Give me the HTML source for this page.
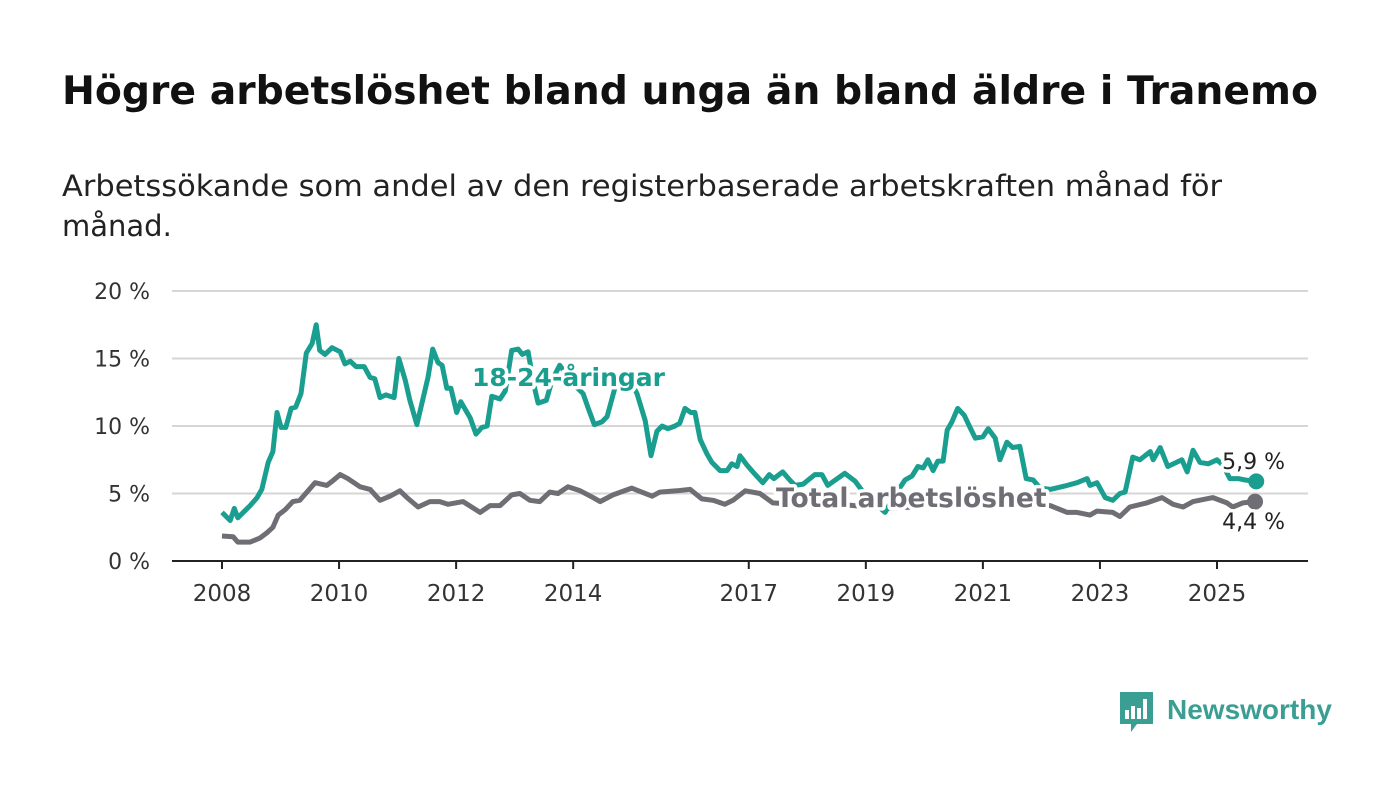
<!DOCTYPE html>
<html><head><meta charset="utf-8"><style>
html,body{margin:0;padding:0;background:#fff;}
body{width:1400px;height:794px;overflow:hidden;font-family:"Liberation Sans",sans-serif;}
</style></head><body>
<svg id="chart" width="1400" height="794" viewBox="0 0 1400 794" xmlns="http://www.w3.org/2000/svg" font-family="'DejaVu Sans','Liberation Sans',sans-serif">
<text x="62" y="104" font-size="39" font-weight="bold" fill="#111" textLength="1256" lengthAdjust="spacingAndGlyphs">Högre arbetslöshet bland unga än bland äldre i Tranemo</text>
<text x="62" y="196" font-size="29" fill="#222" textLength="1160" lengthAdjust="spacingAndGlyphs">Arbetssökande som andel av den registerbaserade arbetskraften månad för</text>
<text x="62" y="236" font-size="29" fill="#222">månad.</text>
<g id="grid"></g><g id="xaxis"></g><g id="series"></g><g id="labels"></g>
<g>
<path d="M1120 692 h33 v32 h-16 l-6 8 v-8 h-11 z" fill="#3a9e93"/>
<rect x="1125" y="710" width="4" height="9" fill="#fff"/><rect x="1131" y="706" width="4" height="13" fill="#fff"/><rect x="1137" y="708" width="4" height="11" fill="#fff"/><rect x="1143" y="699" width="4" height="20" fill="#fff"/>
<text x="1167" y="719" font-size="28" font-family="'Liberation Sans',sans-serif" font-weight="bold" fill="#3a9e93">Newsworthy</text>
</g>
</svg>
<script>
const yTicks=[0,5,10,15,20];
const xTickYears=[2008,2010,2012,2014,2017,2019,2021,2023,2025];
const youthDates=[2008.00,2008.14,2008.21,2008.27,2008.48,2008.60,2008.68,2008.79,2008.87,2008.94,2009.01,2009.09,2009.18,2009.26,2009.35,2009.44,2009.54,2009.61,2009.67,2009.76,2009.88,2010.02,2010.10,2010.19,2010.29,2010.43,2010.53,2010.61,2010.70,2010.80,2010.94,2011.02,2011.13,2011.21,2011.33,2011.52,2011.60,2011.69,2011.76,2011.84,2011.91,2012.01,2012.08,2012.24,2012.34,2012.44,2012.53,2012.61,2012.75,2012.84,2012.95,2013.06,2013.13,2013.23,2013.33,2013.40,2013.54,2013.64,2013.77,2014.03,2014.17,2014.25,2014.36,2014.49,2014.58,2014.68,2014.75,2014.97,2015.09,2015.23,2015.33,2015.43,2015.52,2015.62,2015.74,2015.82,2015.91,2016.01,2016.08,2016.17,2016.29,2016.37,2016.51,2016.63,2016.71,2016.80,2016.85,2016.97,2017.07,2017.24,2017.35,2017.43,2017.58,2017.70,2017.79,2017.93,2018.13,2018.25,2018.35,2018.64,2018.82,2018.99,2019.33,2019.50,2019.67,2019.79,2019.89,2019.98,2020.06,2020.15,2020.23,2020.32,2020.39,2020.47,2020.57,2020.68,2020.78,2020.87,2021.00,2021.09,2021.21,2021.29,2021.41,2021.51,2021.63,2021.74,2021.86,2021.98,2022.15,2022.44,2022.61,2022.78,2022.83,2022.95,2023.09,2023.22,2023.34,2023.43,2023.56,2023.68,2023.86,2023.91,2024.03,2024.16,2024.40,2024.49,2024.59,2024.71,2024.85,2025.00,2025.10,2025.22,2025.36,2025.48,2025.67];
const youthValues=[3.6,3.0,3.9,3.2,4.1,4.7,5.3,7.3,8.1,11.0,9.9,9.9,11.3,11.4,12.4,15.4,16.1,17.5,15.6,15.3,15.8,15.5,14.6,14.8,14.4,14.4,13.6,13.5,12.1,12.3,12.1,15.0,13.4,11.9,10.1,13.6,15.7,14.7,14.5,12.8,12.8,11.0,11.8,10.6,9.4,9.9,10.0,12.2,12.0,12.6,15.6,15.7,15.3,15.5,13.0,11.7,11.9,13.4,14.5,13.0,12.4,11.4,10.1,10.3,10.7,12.3,13.4,13.4,12.4,10.4,7.8,9.6,10.0,9.8,10.0,10.2,11.3,11.0,11.0,9.0,7.9,7.3,6.7,6.7,7.2,7.0,7.8,7.1,6.6,5.8,6.4,6.1,6.6,6.0,5.6,5.7,6.4,6.4,5.6,6.5,5.9,4.9,3.6,4.9,6.0,6.3,7.0,6.9,7.5,6.7,7.4,7.4,9.7,10.3,11.3,10.8,9.9,9.1,9.2,9.8,9.1,7.5,8.8,8.4,8.5,6.1,6.0,5.4,5.3,5.6,5.8,6.1,5.6,5.8,4.7,4.5,5.0,5.1,7.7,7.5,8.1,7.5,8.4,7.0,7.5,6.6,8.2,7.3,7.2,7.5,7.1,6.1,6.1,6.0,5.9];
const totalDates=[2008.00,2008.19,2008.27,2008.48,2008.65,2008.77,2008.87,2008.96,2009.08,2009.21,2009.33,2009.45,2009.59,2009.79,2009.88,2010.02,2010.15,2010.36,2010.53,2010.70,2010.87,2011.04,2011.16,2011.35,2011.55,2011.72,2011.86,2012.12,2012.41,2012.58,2012.75,2012.95,2013.09,2013.26,2013.43,2013.60,2013.74,2013.91,2014.12,2014.34,2014.46,2014.68,2015.00,2015.35,2015.48,2015.77,2016.00,2016.20,2016.39,2016.59,2016.73,2016.94,2017.19,2017.41,2017.8,2018.3,2018.8,2019.3,2019.8,2020.3,2020.7,2021.2,2021.7,2022.15,2022.44,2022.61,2022.83,2022.95,2023.22,2023.34,2023.51,2023.80,2024.06,2024.25,2024.42,2024.59,2024.93,2025.17,2025.27,2025.44,2025.65];
const totalValues=[1.85,1.8,1.4,1.4,1.7,2.1,2.5,3.4,3.8,4.4,4.5,5.1,5.8,5.6,5.9,6.4,6.1,5.5,5.3,4.5,4.8,5.2,4.7,4.0,4.4,4.4,4.2,4.4,3.6,4.1,4.1,4.9,5.0,4.5,4.4,5.1,5.0,5.5,5.2,4.7,4.4,4.9,5.4,4.8,5.1,5.2,5.3,4.6,4.5,4.2,4.5,5.2,5.0,4.3,4.2,4.3,4.1,3.9,4.0,4.7,4.8,4.5,4.2,4.1,3.6,3.6,3.4,3.7,3.6,3.3,4.0,4.3,4.7,4.2,4.0,4.4,4.7,4.3,4.0,4.3,4.4];
const endLabels=["5,9 %","4,4 %"];
const NS="http://www.w3.org/2000/svg";
const X=t=>222+(t-2008)*58.53, Y=v=>561-v*13.5;
function mk(tag,attrs,parent){const e=document.createElementNS(NS,tag);for(const k in attrs)e.setAttribute(k,attrs[k]);parent.appendChild(e);return e;}
const grid=document.getElementById('grid'),xa=document.getElementById('xaxis'),se=document.getElementById('series'),lb=document.getElementById('labels');
yTicks.forEach(v=>{
 if(v>0){const l=mk('line',{x1:172,x2:1308,y1:Y(v),y2:Y(v),stroke:'#d6d6d6','stroke-width':2},grid);
 
 }
 const t=mk('text',{x:150,y:Y(v)+8,'text-anchor':'end','font-size':22,fill:'#333'},grid);t.textContent=v+' %';
 
 
});
const base=mk('line',{x1:172,x2:1308,y1:561,y2:561,stroke:'#222','stroke-width':2},xa);


xTickYears.forEach(yr=>{
 mk('line',{x1:X(yr),x2:X(yr),y1:561,y2:569,stroke:'#222','stroke-width':2},xa);
 const t=mk('text',{x:X(yr),y:601,'text-anchor':'middle','font-size':23,fill:'#333'},xa);t.textContent=yr;
 
 
});
function line(d,v,color,name){
 const p=mk('path',{d:d.map((t,i)=>(i?'L':'M')+X(t).toFixed(1)+' '+Y(v[i]).toFixed(1)).join(' '),fill:'none',stroke:color,'stroke-width':5,'stroke-linejoin':'round'},se);
 
 
 const c=mk('circle',{cx:X(d[d.length-1]),cy:Y(v[v.length-1]),r:8,fill:color},se);
 
 
}
line(totalDates,totalValues,'#6f6e75','total-line');
line(youthDates,youthValues,'#1a9e8f','youth-line');
function lab(txt,x,y,color,name,weight,anchor,size){
 const t=mk('text',{x:x,y:y,'font-size':size,'font-weight':weight,fill:color,stroke:'#fff','stroke-width':7,'paint-order':'stroke','stroke-linejoin':'round','text-anchor':anchor},lb);t.textContent=txt;
 
 
}
lab('18-24-åringar',472,386,'#1a9e8f','youth-series-label','bold','start',25);
lab('Total arbetslöshet',776,507,'#6f6e75','total-series-label','bold','start',26.5);
lab(endLabels[0],1285,469,'#222','youth-end-value','normal','end',22);
lab(endLabels[1],1285,529,'#222','total-end-value','normal','end',22);
</script>
</body></html>
